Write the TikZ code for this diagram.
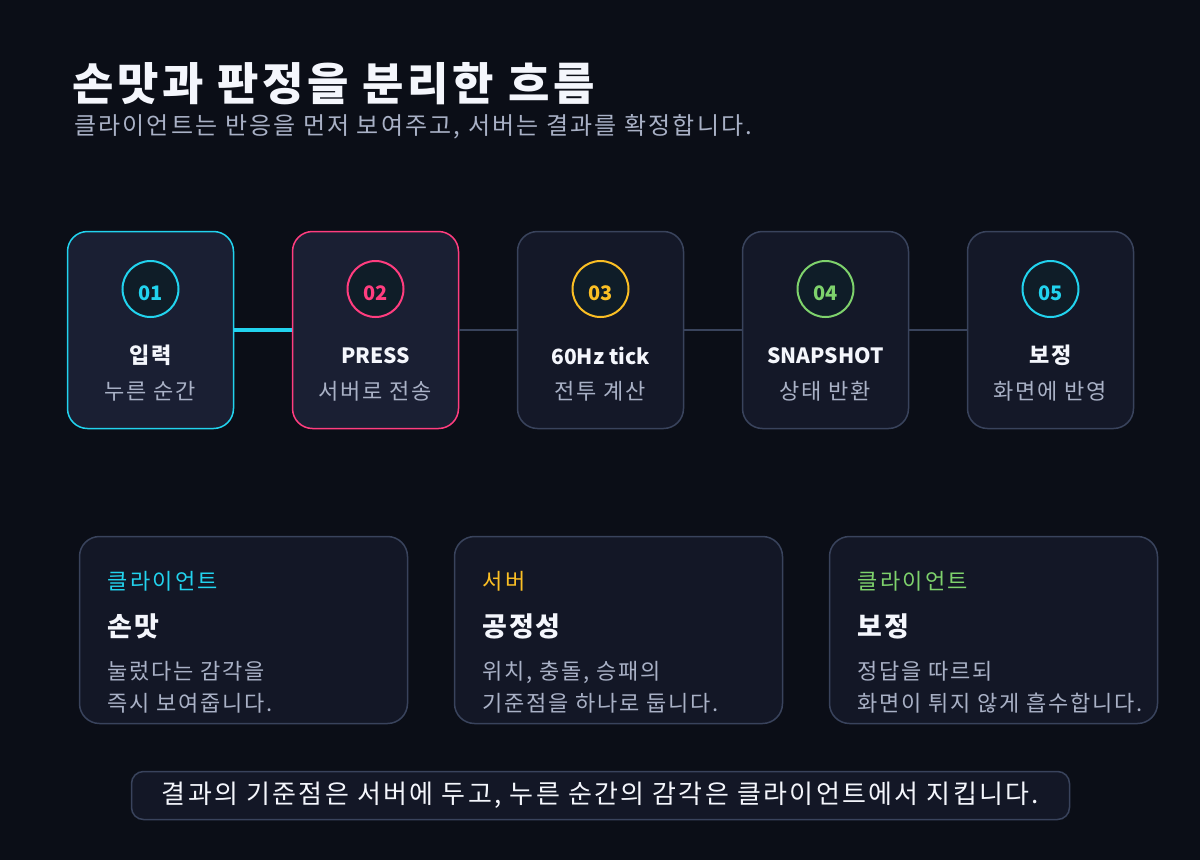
\documentclass[tikz,border=0pt]{standalone}
\usepackage{fontspec}
\setmainfont{Noto Sans CJK KR}
\usepackage{tikz}
\usetikzlibrary{positioning,calc}

\definecolor{bgdark}{HTML}{0B0E17}
\definecolor{boxon}{HTML}{1A1F33}
\definecolor{boxoff}{HTML}{141828}
\definecolor{cardfill}{HTML}{131726}
\definecolor{edgegray}{HTML}{39435C}
\definecolor{numfill}{HTML}{0F1D28}
\definecolor{cyanc}{HTML}{22D3EE}
\definecolor{pinkc}{HTML}{FF3D7F}
\definecolor{yellowc}{HTML}{FBBF24}
\definecolor{greenc}{HTML}{7ED26C}
\definecolor{softgray}{HTML}{A9B1C6}
\definecolor{whitec}{HTML}{F4F6FC}

\newcommand{\wide}[1]{\addfontfeatures{LetterSpace=#1}}

\begin{document}
\begin{tikzpicture}[x=1pt,y=-1pt,
stepbox/.style={draw=edgegray,fill=boxoff,line width=1.5pt,rounded corners=20pt,minimum width=166pt,minimum height=197pt,inner sep=0pt},
num/.style={circle,fill=numfill,line width=2pt,minimum size=56pt,inner sep=0pt,text height=23pt,text depth=0pt,font=\fontsize{20}{24}\selectfont\bfseries},
steptitle/.style={text=whitec,font=\fontsize{21}{25}\selectfont\bfseries},
stephan/.style={steptitle,font=\fontsize{22}{26}\selectfont\bfseries\wide{9}},
stepsub/.style={text=softgray,font=\fontsize{22}{26}\selectfont\wide{8}},
card/.style={draw=edgegray,fill=cardfill,line width=1.5pt,rounded corners=20pt,minimum width=328pt,minimum height=187pt,inner sep=0pt},
cardtag/.style={anchor=west,inner sep=0pt,font=\fontsize{22}{26}\selectfont\wide{10}},
cardhead/.style={anchor=west,inner sep=0pt,text=whitec,font=\fontsize{27}{32}\selectfont\bfseries\wide{6}},
cardbody/.style={anchor=west,inner sep=0pt,align=left,text=softgray,font=\fontsize{22}{32}\selectfont\wide{8}},
link/.style={draw=edgegray,line width=2pt}]
% background and frame
\fill[bgdark] (0,0) rectangle (1200,860);
\useasboundingbox (0,0) rectangle (1200,860);
% heading
\node[anchor=base west,inner sep=0pt,text=whitec,font=\fontsize{45}{50}\selectfont\bfseries\wide{8}] (head) at (72,100) {손맛과 판정을 분리한 흐름};
\node[anchor=base west,inner sep=0pt,text=softgray,font=\fontsize{24}{28}\selectfont\wide{9}] (subhead) at (74,134) {클라이언트는 반응을 먼저 보여주고, 서버는 결과를 확정합니다.};
% step boxes
\node[stepbox,draw=cyanc,fill=boxon] (b1) at (150.5,330) {};
\node[stepbox,draw=pinkc,fill=boxon] (b2) [right=57.5pt of b1] {};
\node[stepbox] (b3) [right=57.5pt of b2] {};
\node[stepbox] (b4) [right=57.5pt of b3] {};
\node[stepbox] (b5) [right=57.5pt of b4] {};
% the connectors
\draw[link,draw=cyanc,line width=4pt] (b1) -- (b2);
\draw[link] (b2) -- (b3);
\draw[link] (b3) -- (b4);
\draw[link] (b4) -- (b5);
% numbers and labels
\node[num,draw=cyanc,text=cyanc] (c1) at ([yshift=41pt]b1.center) {01};
\node[num,draw=pinkc,text=pinkc] (c2) at ([yshift=41pt]b2.center) {02};
\node[num,draw=yellowc,text=yellowc] (c3) at ([yshift=41pt]b3.center) {03};
\node[num,draw=greenc,text=greenc] (c4) at ([yshift=41pt]b4.center) {04};
\node[num,draw=cyanc,text=cyanc] (c5) at ([yshift=41pt]b5.center) {05};
\node[stephan] (t1) at ([yshift=-25pt]b1.center) {입력};
\node[steptitle] (t2) at ([yshift=-26pt]b2.center) {PRESS};
\node[steptitle] (t3) at ([yshift=-26pt]b3.center) {60Hz tick};
\node[steptitle] (t4) at ([yshift=-26pt]b4.center) {SNAPSHOT};
\node[stephan] (t5) at ([yshift=-25pt]b5.center) {보정};
\node[stepsub] (s1) at ([yshift=-61pt]b1.center) {누른 순간};
\node[stepsub] (s2) at ([yshift=-61pt]b2.center) {서버로 전송};
\node[stepsub] (s3) at ([yshift=-61pt]b3.center) {전투 계산};
\node[stepsub] (s4) at ([yshift=-61pt]b4.center) {상태 반환};
\node[stepsub] (s5) at ([yshift=-61pt]b5.center) {화면에 반영};
% role cards
\node[card] (k1) at (243.5,630) {};
\node[card] (k2) [right=45.5pt of k1] {};
\node[card] (k3) [right=45.5pt of k2] {};
\node[cardtag,text=cyanc] (g1) at ([xshift=29pt,yshift=49pt]k1.west) {클라이언트};
\node[cardtag,text=yellowc] (g2) at ([xshift=29pt,yshift=49pt]k2.west) {서버};
\node[cardtag,text=greenc] (g3) at ([xshift=29pt,yshift=49pt]k3.west) {클라이언트};
\node[cardhead] (h1) at ([xshift=29pt,yshift=4pt]k1.west) {손맛};
\node[cardhead] (h2) at ([xshift=29pt,yshift=4pt]k2.west) {공정성};
\node[cardhead] (h3) at ([xshift=29pt,yshift=4pt]k3.west) {보정};
\node[cardbody] (d1) at ([xshift=29pt,yshift=-57pt]k1.west) {눌렀다는 감각을\\즉시 보여줍니다.};
\node[cardbody] (d2) at ([xshift=29pt,yshift=-57pt]k2.west) {위치, 충돌, 승패의\\기준점을 하나로 둡니다.};
\node[cardbody] (d3) at ([xshift=29pt,yshift=-57pt]k3.west) {정답을 따르되\\화면이 튀지 않게 흡수합니다.};
% footer note
\node[draw=edgegray,fill=cardfill,line width=1.5pt,rounded corners=12pt,minimum width=938pt,minimum height=48pt,inner sep=0pt,text=whitec,font=\fontsize{26}{30}\selectfont\wide{9}] (note) at (600.5,795.5) {결과의 기준점은 서버에 두고, 누른 순간의 감각은 클라이언트에서 지킵니다.};
\end{tikzpicture}
\end{document}
